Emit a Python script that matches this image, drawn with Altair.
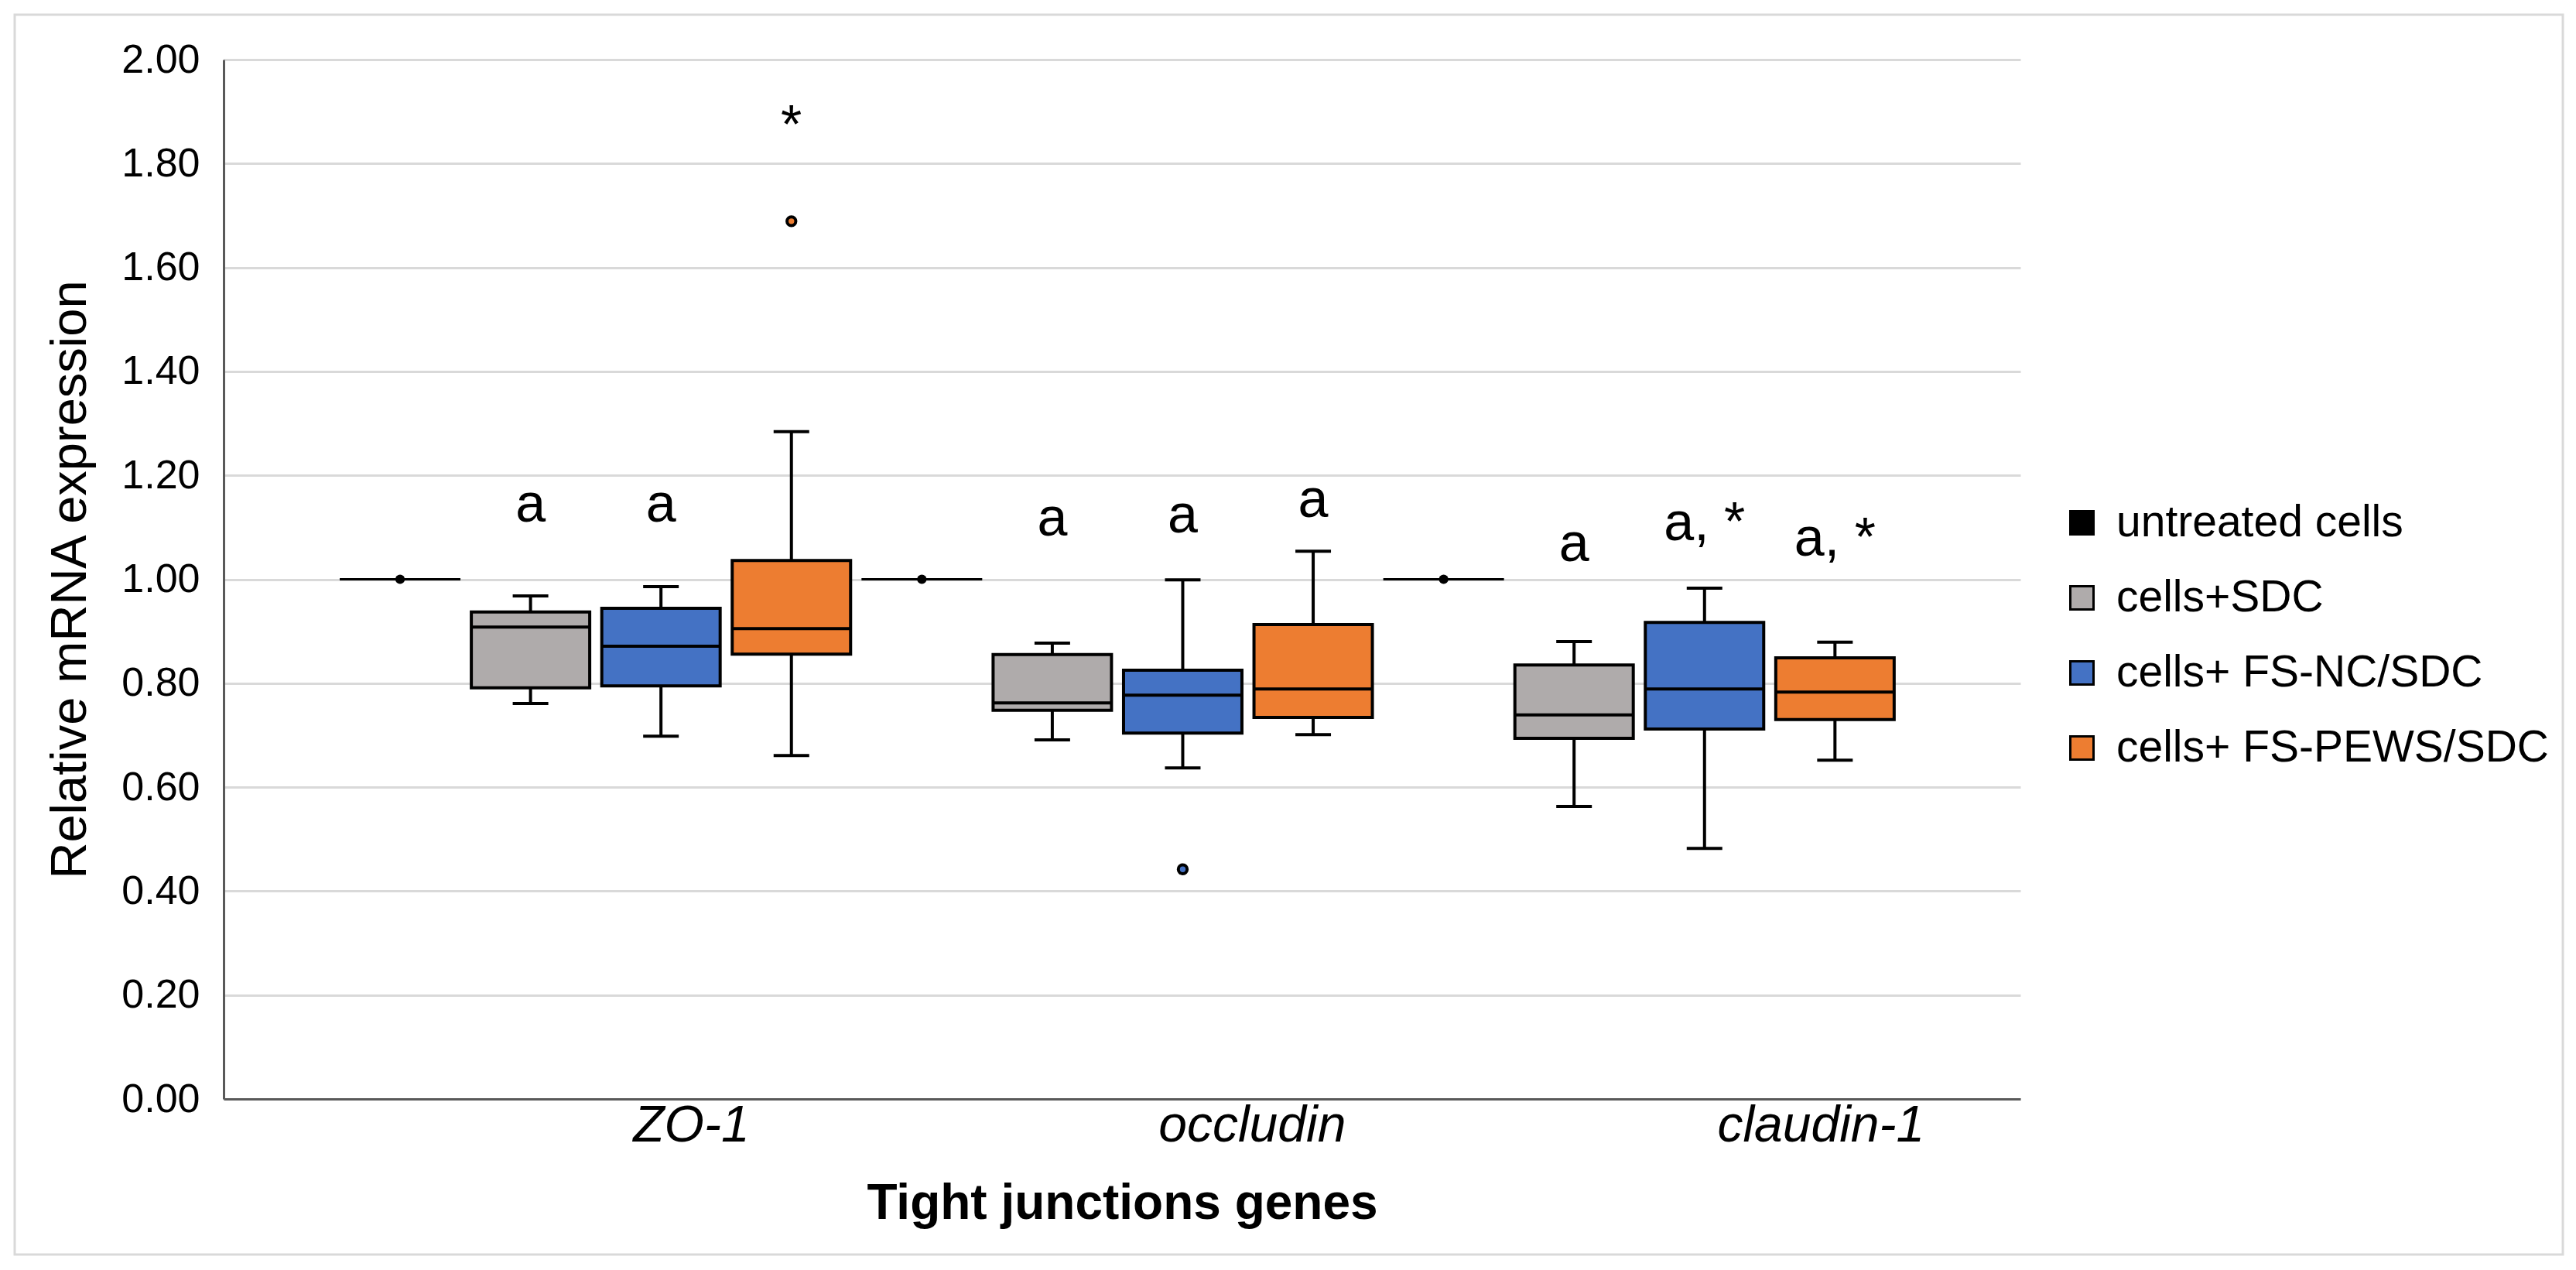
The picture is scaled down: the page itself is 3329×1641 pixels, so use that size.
import json
import altair as alt
import pandas as pd

# ---------------- data ----------------
GENES = ["ZO-1", "occludin", "claudin-1"]
GROUPS = ["untreated cells", "cells+SDC", "cells+ FS-NC/SDC", "cells+ FS-PEWS/SDC"]

# treated groups, gene-major order: (ZO-1: SDC, NC, PEWS), (occludin: ...), (claudin-1: ...)
WHISKER_LOW = [0.761, 0.698, 0.661, 0.691, 0.637, 0.701, 0.563, 0.482, 0.652]
Q1 = [0.791, 0.795, 0.856, 0.748, 0.704, 0.734, 0.694, 0.712, 0.730]
MEDIAN = [0.908, 0.871, 0.905, 0.762, 0.777, 0.789, 0.739, 0.789, 0.783]
Q3 = [0.937, 0.944, 1.036, 0.855, 0.825, 0.913, 0.835, 0.917, 0.849]
WHISKER_HIGH = [0.968, 0.986, 1.284, 0.877, 0.999, 1.054, 0.880, 0.983, 0.879]

UNTREATED = [1.0, 1.0, 1.0]

OUTLIER_GENE = ["ZO-1", "occludin"]
OUTLIER_GROUP = ["cells+ FS-PEWS/SDC", "cells+ FS-NC/SDC"]
OUTLIER_VALUE = [1.689, 0.442]

ANNOT_GENE = ["ZO-1", "ZO-1", "ZO-1", "occludin", "occludin", "occludin",
              "claudin-1", "claudin-1", "claudin-1"]
ANNOT_GROUP = GROUPS[1:] * 3
ANNOT_TEXT = ["a", "a", "*", "a", "a", "a", "a", "a, *", "a, *"]
ANNOT_Y = [1.111, 1.111, 1.839, 1.084, 1.090, 1.120, 1.035, 1.075, 1.045]

COLORS = ["#000000", "#AFABAB", "#4472C4", "#ED7D31"]

# ---------------- layout ----------------
FONT = "Liberation Sans, Arial, Helvetica, sans-serif"
X_DOMAIN = [-1.323, 12.392]          # slot units (one slot per box)
LABEL_SLOTS = [2.23, 6.53, 10.89]    # where the category names sit
PLOT_W, PLOT_H = 2322, 1343
BOX_W = 153
CAP_W = 46


def slot(gene, group):
    return 4 * GENES.index(gene) + GROUPS.index(group)


rows = []
k = 0
for g in GENES:
    for grp in GROUPS[1:]:
        rows.append(dict(gene=g, group=grp, pos=slot(g, grp), lo=WHISKER_LOW[k], q1=Q1[k],
                         med=MEDIAN[k], q3=Q3[k], hi=WHISKER_HIGH[k]))
        k += 1
boxes = pd.DataFrame(rows)

untreated = pd.DataFrame(dict(gene=GENES, group=GROUPS[0],
                              pos=[slot(g, GROUPS[0]) for g in GENES], v=UNTREATED))
outl = pd.DataFrame(dict(gene=OUTLIER_GENE, group=OUTLIER_GROUP, v=OUTLIER_VALUE,
                         pos=[slot(g, s) for g, s in zip(OUTLIER_GENE, OUTLIER_GROUP)]))
annot = pd.DataFrame(dict(gene=ANNOT_GENE, group=ANNOT_GROUP, text=ANNOT_TEXT, v=ANNOT_Y,
                          pos=[slot(g, s) for g, s in zip(ANNOT_GENE, ANNOT_GROUP)]))

label_expr = f"{json.dumps(GENES)}[indexof({json.dumps(LABEL_SLOTS)}, datum.value)]"

xaxis = alt.Axis(values=LABEL_SLOTS, labelExpr=label_expr, grid=False, ticks=False,
                 domainColor="#595959", domainWidth=3, labelFont=FONT, labelFontStyle="italic",
                 labelFontSize=66, labelColor="black", labelPadding=2, labelOverlap=False,
                 labelFlush=False, labelLimit=0, title="Tight junctions genes", titleFont=FONT,
                 titleFontWeight="bold", titleFontSize=64, titleColor="black", titlePadding=36)
yaxis = alt.Axis(values=[round(0.2 * i, 1) for i in range(11)], format=".2f", ticks=False,
                 domainColor="#595959", domainWidth=3, gridColor="#d9d9d9", gridWidth=3,
                 labelFont=FONT, labelFontSize=52, labelColor="black", labelPadding=31,
                 title="Relative mRNA expression", titleFont=FONT, titleFontWeight="normal",
                 titleFontSize=65, titleColor="black", titlePadding=32)
xs = alt.Scale(domain=X_DOMAIN, nice=False, zero=False)
ys = alt.Scale(domain=[0, 2], nice=False)


def X():
    return alt.X("pos:Q", scale=xs, axis=xaxis)


def Y(f):
    return alt.Y(f"{f}:Q", scale=ys, axis=yaxis)


color_scale = alt.Scale(domain=GROUPS, range=COLORS)

border = alt.Chart(pd.DataFrame({"d": [0]})).mark_rect(
    fill=None, stroke="#d9d9d9", strokeWidth=3
).encode(x=alt.value(-270), x2=alt.value(3023), y=alt.value(-58), y2=alt.value(1544))

whisk_lo = alt.Chart(boxes).mark_rule(color="black", strokeWidth=4).encode(
    x=X(), y=Y("lo"), y2="q1:Q")
whisk_hi = alt.Chart(boxes).mark_rule(color="black", strokeWidth=4).encode(
    x=X(), y=Y("q3"), y2="hi:Q")
cap_lo = alt.Chart(boxes).mark_tick(orient="horizontal", size=CAP_W, thickness=4,
                                    color="black", opacity=1).encode(x=X(), y=Y("lo"))
cap_hi = alt.Chart(boxes).mark_tick(orient="horizontal", size=CAP_W, thickness=4,
                                    color="black", opacity=1).encode(x=X(), y=Y("hi"))
box = alt.Chart(boxes).mark_bar(size=BOX_W, stroke="black", strokeWidth=4, opacity=1).encode(
    x=X(), y=Y("q1"), y2="q3:Q",
    color=alt.Color("group:N", scale=color_scale, sort=GROUPS,
                    legend=alt.Legend(title=None, orient="none", legendX=2373, legendY=570,
                                      symbolType="square", symbolSize=900,
                                      symbolStrokeColor="black", symbolStrokeWidth=3,
                                      symbolOpacity=1, labelFont=FONT, labelFontSize=57,
                                      labelColor="black", labelOffset=16, rowPadding=39,
                                      padding=0, labelLimit=0)))
median = alt.Chart(boxes).mark_tick(orient="horizontal", size=BOX_W, thickness=4,
                                    color="black", opacity=1).encode(x=X(), y=Y("med"))
untr_line = alt.Chart(untreated).mark_tick(orient="horizontal", size=156, thickness=3,
                                           color="black", opacity=1).encode(x=X(), y=Y("v"))
untr_dot = alt.Chart(untreated).mark_point(filled=True, shape="circle", size=150,
                                           color="black", opacity=1).encode(x=X(), y=Y("v"))
outliers = alt.Chart(outl).mark_point(filled=True, shape="circle", size=130, stroke="black",
                                      strokeWidth=4, opacity=1).encode(
    x=X(), y=Y("v"), fill=alt.Fill("group:N", scale=color_scale, legend=None))
labels = alt.Chart(annot).mark_text(font=FONT, fontSize=70, color="black",
                                    baseline="alphabetic", align="center").encode(
    x=X(), y=Y("v"), text="text:N")

chart = alt.layer(
    border, whisk_lo, whisk_hi, cap_lo, cap_hi, box, median, untr_line, untr_dot, outliers, labels
).properties(
    width=PLOT_W, height=PLOT_H,
    autosize=alt.AutoSizeParams(type="none"),
    padding={"left": 281, "top": 69, "right": 710, "bottom": 213},
    background="white",
).configure_view(strokeWidth=0)

chart.save("out.html", embed_options={"renderer": "svg", "actions": False})
